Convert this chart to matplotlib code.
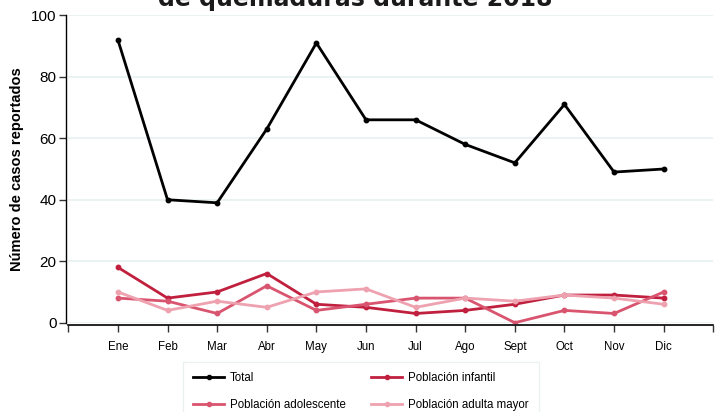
import matplotlib
matplotlib.use("Agg")
import matplotlib.pyplot as plt
from matplotlib.lines import Line2D

months = ["Ene", "Feb", "Mar", "Abr", "May", "Jun", "Jul", "Ago", "Sept", "Oct", "Nov", "Dic"]
total = [92, 40, 39, 63, 91, 66, 66, 58, 52, 71, 49, 50]
infantil = [18, 8, 10, 16, 6, 5, 3, 4, 6, 9, 9, 8]
adolescente = [8, 7, 3, 12, 4, 6, 8, 8, 0, 4, 3, 10]
adulta_mayor = [10, 4, 7, 5, 10, 11, 5, 8, 7, 9, 8, 6]
series_names = ["Total", "Población infantil", "Población adolescente", "Población adulta mayor"]
colors = ["#000000", "#c0203e", "#d9546e", "#eea2af"]

plt.rcParams['font.family'] = ['Liberation Sans', 'DejaVu Sans']

W, H = 717, 412
fig = plt.figure(figsize=(W / 100, H / 100), dpi=100)
ax = fig.add_axes([68.3 / W, (H - 322.7) / H, (713.3 - 68.3) / W, (322.7 - 15.3) / H])

x = list(range(1, len(months) + 1))
data = [total, infantil, adolescente, adulta_mayor]
for vals, c in zip(data, colors):
    ax.plot(x, vals, color=c, lw=2, marker='o', ms=3.2, zorder=3)

ax.set_xlim(0, 13)
ax.set_ylim(0, 100)
ax.set_yticks([0, 20, 40, 60, 80, 100])
ax.tick_params(axis='y', labelsize=11, length=5, width=1, pad=2, color='#333333')
ax.set_xticks(range(0, 14))
ax.set_xticklabels([""] + months + [""])
ax.tick_params(axis='x', labelsize=8.3, length=5, width=1, pad=6, color='#333333')

for s in ['top', 'right']:
    ax.spines[s].set_visible(False)
ax.spines['left'].set_position(('outward', 1.5))
ax.spines['bottom'].set_position(('outward', 2))
ax.spines['left'].set_linewidth(1)
ax.spines['bottom'].set_linewidth(1.2)

ax.yaxis.grid(True, color='#e8f0f2', lw=1.2)
ax.set_axisbelow(True)

ax.set_ylabel("Número de casos reportados", fontsize=10.5, fontweight='bold', labelpad=5)

fig.text(355 / W, (H - 6) / H, "de quemaduras durante 2018", ha='center', va='baseline',
         fontsize=17, fontweight='bold', family=['DejaVu Sans'], color='#1a1a1a')

handles = [Line2D([], [], color=c, lw=2, marker='o', ms=3) for c in colors]
order = [0, 2, 1, 3]
leg = fig.legend([handles[i] for i in order], [series_names[i] for i in order],
                 ncol=2, loc='upper left', bbox_to_anchor=(177 / W, (H - 356) / H),
                 fontsize=8.3, frameon=True, handlelength=2.7, columnspacing=2.2,
                 labelspacing=1.3, borderpad=0.9, handletextpad=0.5)
leg.get_frame().set_edgecolor('#e6eef0')
leg.get_frame().set_linewidth(1)
leg.get_frame().set_boxstyle('square', pad=0)

fig.savefig("out.png", dpi=100)
